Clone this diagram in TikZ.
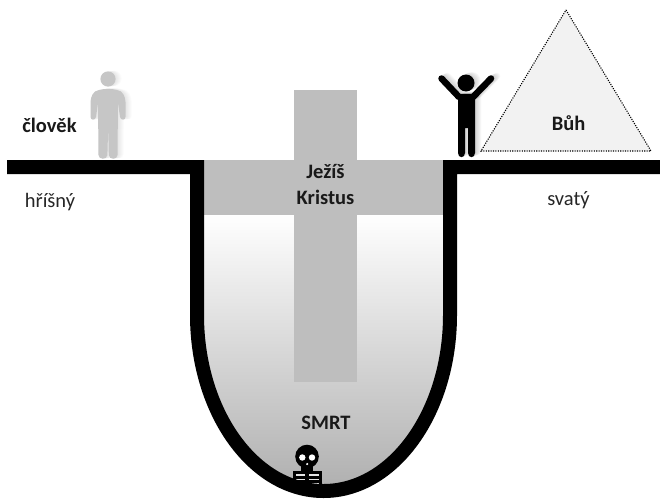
\documentclass[tikz,border=0pt]{standalone}
\usepackage{fontspec}
\setmainfont{Carlito}
\usetikzlibrary{shadings}
\definecolor{band}{RGB}{190,190,190}
\definecolor{manGray}{RGB}{198,198,198}
\tikzset{
  bold label/.style={font=\fontsize{20.5}{26}\selectfont\bfseries,text=black!90,inner sep=0pt,align=center},
  plain label/.style={font=\fontsize{20.5}{24}\selectfont,text=black!85,inner sep=0pt},
  pit wall/.style={line width=14pt,black,line join=miter},
}
\newcommand{\grayman}[1]{%
  \fill[#1] (108,79) circle (7.6);
  \fill[#1] (99,90) .. controls (104,88.5) and (112,88.5) .. (117,90)
     .. controls (123,91) and (125,96) .. (125.5,102)
     -- (125.5,117) .. controls (125.5,120.5) and (120.5,120.5) .. (120,117)
     -- (118,103) -- (117.5,155) .. controls (117.5,160) and (109,160) .. (108.8,155)
     -- (108.2,126) -- (107.4,155) .. controls (107.2,160) and (98.5,160) .. (98.5,155)
     -- (98,103) -- (96,117) .. controls (95.5,120.5) and (90.5,120.5) .. (90.5,117)
     -- (90.5,102) .. controls (91,96) and (93,91) .. (99,90) -- cycle;
}
\newcommand{\blackman}[1]{%
  \fill[#1] (466,83) circle (8.5);
  \draw[#1,line width=6.5pt,line cap=round,line join=round] (441.5,78.5) -- (459,97) -- (473,97) -- (491,78.5);
  \fill[#1] (458,95) -- (475,95) -- (475,153) .. controls (475,158.5) and (468,158.5) .. (468,153)
     -- (468,128) -- (465,128) -- (465,153) .. controls (465,158.5) and (458,158.5) .. (458,153) -- cycle;
}
\begin{document}
\begin{tikzpicture}[x=1pt,y=-1pt]
\useasboundingbox (0,0) rectangle (660,498);
\fill[white] (0,0) rectangle (660,498);
% pit interior
\begin{scope}
  \clip (197,160) -- (197,315) .. controls (197,412.2) and (253.6,491) .. (323.5,491)
        .. controls (393.4,491) and (450,412.2) .. (450,315) -- (450,160) -- cycle;
  \shade[top color=white,bottom color=band!92!black] (190,214) rectangle (457,491);
  \fill[band] (190,160) rectangle (457,215);
\end{scope}
% cross
\fill[band] (294,90) rectangle (357,382);
% skeleton
\fill[black] (307,456.5) circle (11.8);
\fill[black] (301,462) rectangle (313,471);
\fill[white] (302.3,457.5) circle (3.2);
\fill[white] (312,457.5) circle (3.2);
\fill[white] (307.2,464) circle (1.2);
\fill[black] (293,471) rectangle (322,492);
\foreach \yy in {475,479.5,484}{
  \draw[white!90!black,line width=1.1pt] (296,\yy) -- (305,\yy) (309,\yy) -- (319,\yy);
}
% walls
\draw[pit wall] (7,167) -- (197,167) -- (197,315) .. controls (197,412.2) and (253.6,491) .. (323.5,491)
        .. controls (393.4,491) and (450,412.2) .. (450,315) -- (450,167) -- (660,167);
% triangle
\draw[fill=black!5,line width=1.1pt,dash pattern=on 1.1pt off 1.3pt] (566,10) -- (651,151) -- (481,151) -- cycle;
% figures with soft shadows
\foreach \dd in {6,5,...,1}{
  \begin{scope}[shift={(\dd pt,0.1*\dd pt)}]\grayman{black!40,opacity=0.04}\end{scope}
  \begin{scope}[shift={(\dd pt,0.4*\dd pt)}]\blackman{black!60,opacity=0.05}\end{scope}
}
\grayman{manGray}
\blackman{black}
% labels
\node[bold label] (clovek) at (49.5,125) {člověk};
\node[plain label] (hrisny) at (50,202) {hříšný};
\node[bold label] (buh) at (568.5,123) {Bůh};
\node[plain label] (svaty) at (568.5,200) {svatý};
\node[bold label] (jezis) at (325.5,184) {Ježíš\\Kristus};
\node[bold label] (smrt) at (326,423) {SMRT};
\end{tikzpicture}
\end{document}
